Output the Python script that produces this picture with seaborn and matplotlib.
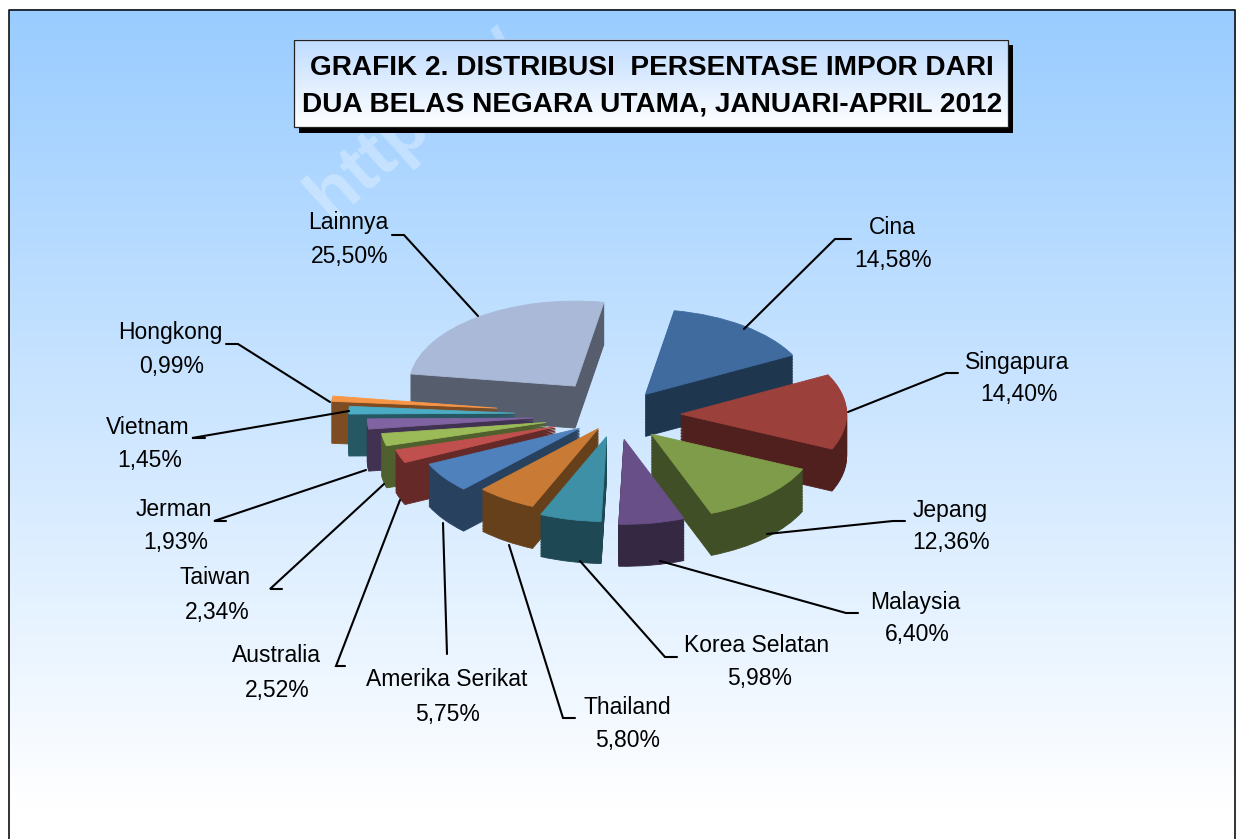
import numpy as np
import matplotlib
matplotlib.use("Agg")
import matplotlib.pyplot as plt
from matplotlib.patches import Rectangle
import seaborn as sns

# --- data ---
countries = ["Cina", "Singapura", "Jepang", "Malaysia", "Korea Selatan", "Thailand",
             "Amerika Serikat", "Australia", "Taiwan", "Jerman", "Vietnam", "Hongkong", "Lainnya"]
shares = [14.58, 14.40, 12.36, 6.40, 5.98, 5.80, 5.75, 2.52, 2.34, 1.93, 1.45, 0.99, 25.50]
share_labels = ["14,58%", "14,40%", "12,36%", "6,40%", "5,98%", "5,80%", "5,75%",
                "2,52%", "2,34%", "1,93%", "1,45%", "0,99%", "25,50%"]
title_lines = ["GRAFIK 2. DISTRIBUSI  PERSENTASE IMPOR DARI",
               "DUA BELAS NEGARA UTAMA, JANUARI-APRIL 2012"]

# --- styles ---
top_colors = ["#3F6B9F", "#9C403B", "#7F9C4A", "#694F87", "#3D90A6", "#C97B36", "#4F81BD",
              "#C0504D", "#9BBB59", "#8064A2", "#4BACC6", "#F79646", "#AAB9D8"]
side_colors = ["#1F364F", "#4F201D", "#404F25", "#352842", "#1E4853", "#66401B", "#28415F",
               "#652A28", "#4F5F2D", "#413252", "#265863", "#7D4C22", "#565D6D"]
explode = [0.30, 0.39, 0.31, 0.29, 0.26, 0.19, 0.27, 0.39, 0.43, 0.50, 0.61, 0.72, 0.42]
paint_order = [12, 0, 1, 11, 10, 9, 8, 7, 6, 5, 4, 2, 3]

W, H = 1237, 839
RX, RY, DEPTH = 166.0, 85.0, 42.0
CX, CY = 616.0, 415.0
START = 80

label_pos = [(892, 225, 893, 259), (1017, 360, 1019, 393), (950, 508, 951, 541),
             (915, 600, 917, 633), (757, 644, 760, 677), (627, 705, 628, 738),
             (447, 678, 448, 712), (276, 654, 277, 688), (215, 576, 217, 610),
             (174, 508, 176, 541), (148, 425, 150, 459), (170, 330, 172, 364),
             (348, 221, 350, 254)]
leaders = [[(851, 239), (835, 239), (744, 329)],
           [(958, 373), (946, 373), (848, 412)],
           [(905, 521), (893, 521), (767, 534)],
           [(858, 613), (846, 613), (660, 561)],
           [(677, 657), (665, 657), (580, 561)],
           [(575, 718), (563, 718), (509, 545)],
           [(447, 654), (443, 523)],
           [(345, 666), (336, 666), (400, 500)],
           [(282, 589), (270, 589), (384, 484)],
           [(226, 521), (214, 521), (366, 470)],
           [(205, 438), (192, 438), (349, 411)],
           [(226, 344), (238, 344), (330, 402)],
           [(392, 235), (404, 235), (478, 316)]]

sns.set_theme(style="white")
plt.rcParams["font.family"] = ["Liberation Sans", "DejaVu Sans"]
top_pal = sns.color_palette(top_colors)
side_pal = sns.color_palette(side_colors)

fig = plt.figure(figsize=(W / 100, H / 100), dpi=100, facecolor="white")


def pixel_axes(zorder):
    a = fig.add_axes([0, 0, 1, 1], zorder=zorder)
    a.set_xlim(0, W)
    a.set_ylim(H, 0)
    a.axis("off")
    a.patch.set_alpha(0)
    return a


def vgrad(top, bottom, n=256):
    t = np.linspace(0, 1, n)[:, None, None]
    c0 = np.array(matplotlib.colors.to_rgb(top))[None, None, :]
    c1 = np.array(matplotlib.colors.to_rgb(bottom))[None, None, :]
    return c0 * (1 - t) + c1 * t


# background panel
bg = pixel_axes(0)
bg.imshow(vgrad("#99CCFF", "#FFFFFF"), extent=(8.5, 1235, 810, 9.5), aspect="auto", zorder=1)
bg.add_patch(Rectangle((8.5, 810), 1226.5, 40, fc="white", ec="none", zorder=1))
bg.set_xlim(0, W)
bg.set_ylim(H, 0)
bg.plot([8.5, 8.5, 1235, 1235], [H, 9.5, 9.5, H], color="#111111", lw=1.2, zorder=3)
bg.text(318, 207, "http://w", rotation=42, rotation_mode="anchor", ha="left", va="center",
        fontsize=52, fontweight="bold", color="white", alpha=0.3, zorder=2)

# pie: stacked layers give the extruded rim, the top layer gives the face
pie_ax = fig.add_axes([0, 0, 1, 1], zorder=1)
pie_ax.patch.set_alpha(0)
rank = {idx: r for r, idx in enumerate(paint_order)}
n_layers = 28
for k in range(n_layers, -1, -1):
    off = -(DEPTH / RY) * k / n_layers
    colors = top_pal if k == 0 else side_pal
    wedges, _ = pie_ax.pie(shares, explode=explode, colors=colors, startangle=START,
                           counterclock=False, center=(0, off), radius=1.0,
                           wedgeprops=dict(linewidth=0.6))
    for i, w in enumerate(wedges):
        w.set_edgecolor(colors[i])
        w.set_zorder(10 + rank[i] + (n_layers - k) / (n_layers + 1))
pie_ax.set_aspect("auto")
pie_ax.set_xlim(-CX / RX, (W - CX) / RX)
pie_ax.set_ylim((CY - H) / RY, CY / RY)
pie_ax.axis("off")

# overlay: title box, leader lines, labels
ov = pixel_axes(2)
ov.add_patch(Rectangle((299, 45), 714, 88, fc="black", ec="none", zorder=1))
ov.imshow(vgrad("#BFDCFF", "#FFFFFF"), extent=(293.5, 1007.5, 127, 39.5), aspect="auto", zorder=2)
ov.add_patch(Rectangle((293.5, 39.5), 714, 87.5, fc="none", ec="#222222", lw=0.9, zorder=3))
ov.set_xlim(0, W)
ov.set_ylim(H, 0)
ov.text(652, 68, title_lines[0], ha="center", va="center", fontsize=20.2, fontweight="bold",
        color="black", zorder=4)
ov.text(652, 105, title_lines[1], ha="center", va="center", fontsize=20.2, fontweight="bold",
        color="black", zorder=4)

for pts in leaders:
    xs, ys = zip(*pts)
    ov.plot(xs, ys, color="black", lw=1.5, solid_joinstyle="miter", zorder=5)

for name, lab, (x1, y1, x2, y2) in zip(countries, share_labels, label_pos):
    ov.text(x1, y1 + 2, name, ha="center", va="center", fontsize=16.5, color="black", zorder=6)
    ov.text(x2, y2 + 2, lab, ha="center", va="center", fontsize=16.5, color="black", zorder=6)

fig.savefig("out.png", dpi=100, facecolor="white")
